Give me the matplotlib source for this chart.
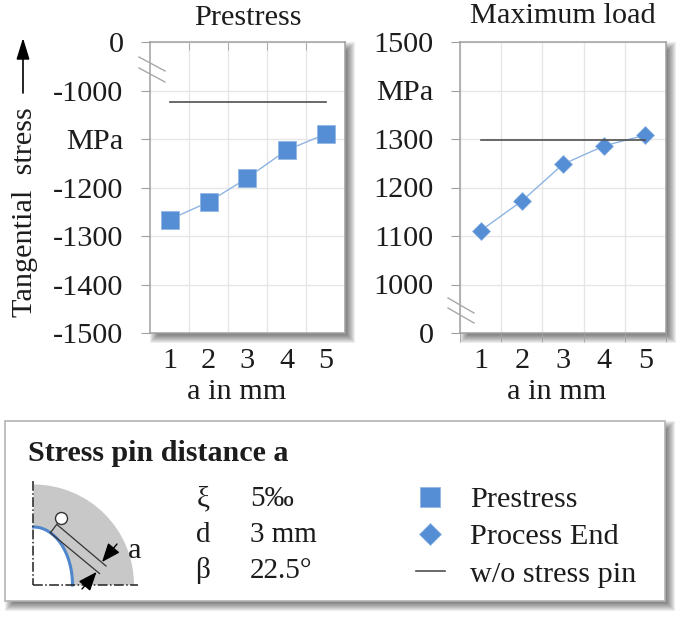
import numpy as np
import matplotlib
matplotlib.use("Agg")
import matplotlib.pyplot as plt
from matplotlib.lines import Line2D
from matplotlib.patches import Rectangle, Wedge, Circle

plt.rcParams['font.family'] = ['Liberation Serif', 'DejaVu Serif']
plt.rcParams['font.size'] = 21.8

W, H = 685, 621
TEXT = '#1c1c1c'
BLUE = '#558ed5'
LIGHT = '#8db4e2'
GRID = '#e6e6e6'
AXIS = '#a0a0a0'
DARK = '#505050'

a_mm = [1, 2, 3, 4, 5]
prestress = [-1266, -1230, -1180, -1123, -1090]
prestress_ref = [-1023, -1023, -1023, -1023, -1023]
maxload = [1111, 1172, 1248, 1286, 1308]
maxload_ref = [1298, 1298, 1298, 1298, 1298]

# broken axes: top/bottom tick stands in for 0, one tick replaced by the unit
left_ticks = [-1500, -1400, -1300, -1200, -1100, -1000, -900]
left_labels = ['-1500', '-1400', '-1300', '-1200', 'MPa', '-1000', '0']
right_ticks = [900, 1000, 1100, 1200, 1300, 1400, 1500]
right_labels = ['0', '1000', '1100', '1200', '1300', 'MPa', '1500']


def px_axes(fig, x0, y0, x1, y1, **kw):
    return fig.add_axes([x0 / W, 1 - y1 / H, (x1 - x0) / W, (y1 - y0) / H], **kw)


def shadow(ax, x0, y0, x1, y1, off=5, blur=5):
    # stack of see-through rects, poor mans gaussian
    for i in range(blur, -blur - 1, -1):
        ax.add_patch(Rectangle((x0 + off - i, y0 + off - i), x1 - x0 + 2 * i, y1 - y0 + 2 * i,
                               fc='#000000', ec='none', alpha=0.065))


def style_chart(ax, ticks, labels, ylim, minor_on_top):
    ax.set_xlim(0.5, 5.5)
    ax.set_ylim(*ylim)
    ax.set_xticks(a_mm)
    ax.set_yticks(ticks)
    ax.set_yticklabels(labels)
    ax.tick_params(axis='x', which='major', length=0, pad=10.5, labelcolor=TEXT)
    if minor_on_top:
        ax.set_xticks(np.array(a_mm[:-1]) + 0.5, minor=True)
        ax.tick_params(axis='x', which='minor', top=True, bottom=False, direction='in',
                       length=6, color=AXIS)
    else:
        ax.set_xticks([0.5] + list(np.array(a_mm) + 0.5), minor=True)
        ax.tick_params(axis='x', which='minor', direction='out', length=6.5, color=AXIS)
    ax.tick_params(axis='y', length=6.5, pad=12.5, color=AXIS, labelcolor=TEXT)
    ax.grid(True, which='minor', axis='x', color=GRID, lw=1)
    ax.grid(True, which='major', axis='y', color=GRID, lw=1)
    ax.set_axisbelow(True)
    for s in ax.spines.values():
        s.set_color(AXIS)
        s.set_linewidth(1.1)


fig = plt.figure(figsize=(W / 100, H / 100), dpi=100, facecolor='white')

bg = px_axes(fig, 0, 0, W, H, zorder=0)
bg.set_xlim(0, W)
bg.set_ylim(H, 0)
bg.axis('off')
shadow(bg, 150, 42, 345, 333)
shadow(bg, 460, 42, 666, 333)
shadow(bg, 5, 421, 665, 601)
bg.add_patch(Rectangle((5, 421), 660, 180, fc='white', ec='#b4b4b4', lw=1.2))

ax1 = px_axes(fig, 150, 42, 345, 333, zorder=2)
style_chart(ax1, left_ticks, left_labels, (-1500, -900), True)
ax1.plot(a_mm, prestress_ref, color=DARK, lw=1.2, zorder=3)
ax1.plot(a_mm, prestress, color=LIGHT, lw=1, marker='s', ms=13, mfc=BLUE, mec=LIGHT, mew=0.5, zorder=4)
ax1.set_title('Prestress', fontsize=21.8, color=TEXT, pad=12)

ax2 = px_axes(fig, 460, 42, 666, 333, zorder=2)
style_chart(ax2, right_ticks, right_labels, (900, 1500), False)
ax2.plot(a_mm, maxload, color=LIGHT, lw=1, marker='D', ms=9.4, mfc=BLUE, mec=LIGHT, mew=0.5, zorder=3)
ax2.plot(a_mm, maxload_ref, color=DARK, lw=1.2, zorder=4)
ax2.set_title('Maximum load', fontsize=21.8, color=TEXT, pad=13.5)

top = px_axes(fig, 0, 0, W, H, zorder=5)
top.set_xlim(0, W)
top.set_ylim(H, 0)
top.axis('off')
top.patch.set_alpha(0)

# axis break marks
for x0, x1, y0, y1 in [(139, 165, 57, 71), (139, 165, 68, 82), (448, 474, 298, 313), (448, 474, 308, 323)]:
    top.plot([x0, x1], [y0, y1], color='#a8a8a8', lw=1)

top.text(237, 399, 'a in mm', ha='center', va='baseline', color=TEXT)
top.text(557, 399, 'a in mm', ha='center', va='baseline', color=TEXT)
top.text(25.5, 212, 'Tangential  stress', rotation=90, ha='center', va='center', color=TEXT)
top.annotate('', xy=(23, 38), xytext=(23, 93),
             arrowprops=dict(arrowstyle='-|>,head_width=0.2,head_length=0.65', color='black', lw=1.2,
                             shrinkA=0, shrinkB=0, mutation_scale=20))

# parameter box
top.text(28, 461, 'Stress pin distance a', fontsize=21.6, fontweight='bold', ha='left', va='baseline', color=TEXT)
for y, sym, val in [(506, '\u03be', '5\u2030'), (542, 'd', '3 mm'), (578, '\u03b2', '22.5\u00b0')]:
    top.text(203, y, sym, fontsize=21, ha='center', va='baseline', color=TEXT)
    top.text(250, y, val, fontsize=21, ha='left', va='baseline', color=TEXT)

# sketch of the quarter ring
cx, cy = 33.5, 585
top.add_patch(Wedge((cx, cy), 100.5, 270, 360, fc='#c8c8c8', ec='none'))
t = np.radians(np.linspace(0, 90, 60))
ex, ey = cx + 39 * np.cos(t), cy - 58 * np.sin(t)
top.fill(np.r_[cx, ex], np.r_[cy, ey], color='white', lw=0)
top.plot(ex, ey, color='#4f86cc', lw=2.2)
top.add_patch(Circle((61.5, 518.5), 6, fc='white', ec='#333333', lw=1))
top.plot([51, 57], [532, 524], color='#333333', lw=0.9)
top.plot([57.5, 106], [525, 566], color='#333333', lw=0.9)
top.plot([50, 99.5], [532.5, 573.5], color='#333333', lw=0.9)
top.plot([cx, cx], [481, cy], color='#222222', lw=1.1, ls='-.')
top.plot([cx, 138], [cy, cy], color='#222222', lw=1.1, ls='-.')
top.annotate('', xy=(102, 562), xytext=(117, 544),
             arrowprops=dict(arrowstyle='-|>,head_width=0.2,head_length=0.5', color='black', lw=1,
                             shrinkA=0, shrinkB=0, mutation_scale=23))
top.annotate('', xy=(96.5, 572), xytext=(82, 589),
             arrowprops=dict(arrowstyle='-|>,head_width=0.2,head_length=0.5', color='black', lw=1,
                             shrinkA=0, shrinkB=0, mutation_scale=23))
top.text(135, 558, 'a', ha='center', va='baseline', color=TEXT)

handles = [
    Line2D([], [], ls='none', marker='s', ms=14.5, mfc=BLUE, mec=LIGHT, mew=0.5),
    Line2D([], [], ls='none', marker='D', ms=11, mfc=BLUE, mec=LIGHT, mew=0.5),
    Line2D([], [], color=DARK, lw=1.2),
]
leg = top.legend(handles, ['Prestress', 'Process End', 'w/o stress pin'], loc='upper left',
                 bbox_to_anchor=(416 / W, 1 - 486 / H), frameon=False, fontsize=21.8,
                 handlelength=0.95, handletextpad=0.84, labelspacing=0.33, borderpad=0, borderaxespad=0,
                 labelcolor=TEXT)

fig.savefig('out.png', dpi=100)
